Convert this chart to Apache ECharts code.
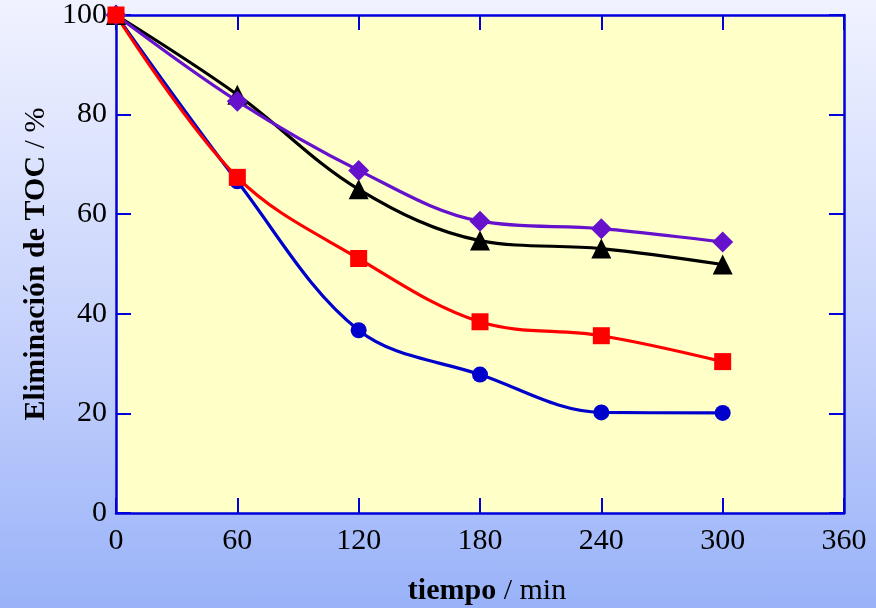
<!DOCTYPE html>
<html>
<head>
<meta charset="utf-8">
<script src="https://cdn.jsdelivr.net/npm/echarts@6/dist/echarts.min.js"></script>
<style>
  html, body { margin: 0; padding: 0; }
  #chart { width: 876px; height: 608px; background: linear-gradient(to bottom, #f0f2ff 0%, #c6d2fc 55%, #99b2f8 100%); }
</style>
</head>
<body>
<div id="chart"></div>
<script>
// Time points (min) and TOC removal (%) for each run
const tiempo = [0, 60, 120, 180, 240, 300];
const serieCirculos = [100, 66.6, 36.7, 27.8, 20.2, 20.1];
const serieCuadrados = [100, 67.4, 51.1, 38.4, 35.6, 30.4];
const serieTriangulos = [100, 84, 65, 54.7, 53.1, 49.9];
const serieRombos = [100, 82.7, 68.8, 58.6, 57.1, 54.4];
const xTicks = [0, 60, 120, 180, 240, 300, 360];
const yTicks = [0, 20, 40, 60, 80, 100];

const AZUL = '#0000dd';
const FONT = '"Liberation Serif", "Times New Roman", serif';

const pares = (vals) => tiempo.map((t, i) => [t, vals[i]]);

const tickStyle = { show: true, inside: true, length: 15, lineStyle: { color: AZUL, width: 2 } };
const lineStyleAxis = { show: true, onZero: false, lineStyle: { color: AZUL, width: 2.5 } };

function serie(name, data, color, symbol, size) {
  return {
    name, type: 'line', data: pares(data), smooth: 0.35,
    symbol, symbolSize: size,
    lineStyle: { color, width: 3.2 },
    itemStyle: { color },
    z: 3
  };
}

const chart = echarts.init(document.getElementById('chart'), null, { renderer: 'canvas' });
chart.setOption({
  animation: false,
  grid: {
    left: 116, top: 15, width: 728, height: 498,
    outerBoundsMode: 'none', containLabel: false,
    show: true, backgroundColor: '#ffffc8', borderColor: AZUL, borderWidth: 0
  },
  xAxis: [
    {
      type: 'value', min: 0, max: 360, interval: 60,
      axisLine: lineStyleAxis, axisTick: tickStyle, splitLine: { show: false },
      axisLabel: { margin: 13, color: '#000', fontFamily: FONT, fontSize: 30,
        formatter: (v) => xTicks.includes(v) ? String(v) : '' },
      name: '{b|tiempo} / min', nameLocation: 'middle', nameGap: 63,
      nameTextStyle: { color: '#000', fontFamily: FONT, fontSize: 30, padding: [0, 0, 0, 14],
        rich: { b: { fontFamily: FONT, fontSize: 30, fontWeight: 'bold', color: '#000' } } }
    },
    {
      type: 'value', position: 'top', min: 0, max: 360, interval: 60,
      axisLine: lineStyleAxis, axisTick: tickStyle, axisLabel: { show: false }, splitLine: { show: false }
    }
  ],
  yAxis: [
    {
      type: 'value', min: 0, max: 100, interval: 20,
      axisLine: lineStyleAxis, axisTick: tickStyle, splitLine: { show: false },
      axisLabel: { margin: 9, color: '#000', fontFamily: FONT, fontSize: 30,
        formatter: (v) => yTicks.includes(v) ? String(v) : '' },
      name: '{b|Eliminación de TOC} / %', nameLocation: 'middle', nameGap: 65,
      nameTextStyle: { color: '#000', fontFamily: FONT, fontSize: 30,
        rich: { b: { fontFamily: FONT, fontSize: 30, fontWeight: 'bold', color: '#000' } } }
    },
    {
      type: 'value', position: 'right', min: 0, max: 100, interval: 20,
      axisLine: lineStyleAxis, axisTick: tickStyle, axisLabel: { show: false }, splitLine: { show: false }
    }
  ],
  series: [
    serie('triángulos', serieTriangulos, '#000000', 'triangle', 20),
    serie('rombos', serieRombos, '#6611cc', 'diamond', 21),
    serie('círculos', serieCirculos, '#0000cc', 'circle', 16),
    serie('cuadrados', serieCuadrados, '#ff0000', 'rect', 17)
  ]
});
</script>
</body>
</html>
